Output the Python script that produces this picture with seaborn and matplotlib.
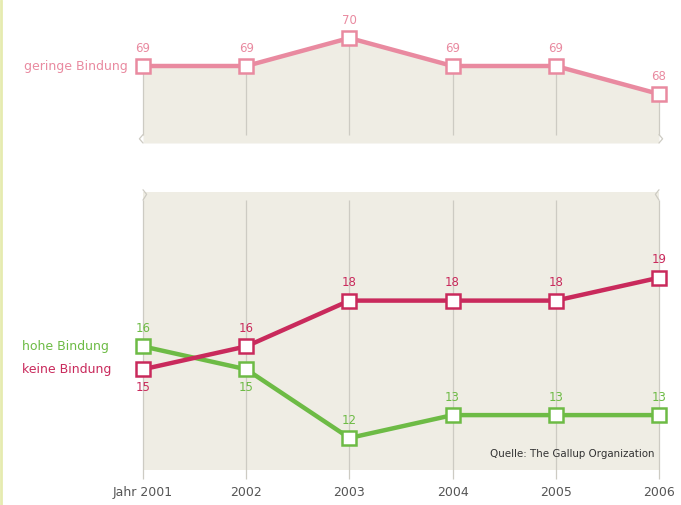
import matplotlib
matplotlib.use('Agg')
import matplotlib.pyplot as plt
import seaborn as sns
import numpy as np
import pandas as pd

# data
years = [2001, 2002, 2003, 2004, 2005, 2006]
year_labels = ['Jahr 2001', '2002', '2003', '2004', '2005', '2006']
geringe = [69, 69, 70, 69, 69, 68]
hohe = [16, 15, 12, 13, 13, 13]
keine = [15, 16, 18, 18, 18, 19]

sns.set_style('white')
plt.rcParams['font.family'] = ['DejaVu Sans']

c_ger = '#e98aa0'
c_kei = '#c92a5c'
c_hoh = '#6dbb45'
beige = '#efede4'
grid_c = '#cdcbc3'
fs_val = 8.5
fs_lab = 9

fig = plt.figure(figsize=(6.81, 5.05), dpi=100)
W, H = 681, 505
px_per_year = 103.2
xl = (2001 - 143 / px_per_year, 2006 + (W - 659) / px_per_year)
yl1 = (69 - (160 - 66) / 28, 69 + 66 / 28)
yl2 = (12 - (H - 438) / 22.9, 12 + (438 - 180) / 22.9)

# top panel: pixel 0..160
ax1 = fig.add_axes([0, 1 - 160 / H, 1, 160 / H])
# bottom panel: pixel 180..505
ax2 = fig.add_axes([0, 0, 1, (H - 180) / H])

# top panel
base1 = 66.25
ax1.fill_between(years, geringe, base1, color=beige, lw=0, zorder=0)
ax1.vlines(years, 66.55, geringe, color=grid_c, lw=0.9, zorder=1)
df1 = pd.DataFrame({'Jahr': years, 'Wert': geringe})
sns.lineplot(data=df1, x='Jahr', y='Wert', ax=ax1, color=c_ger, lw=3.2,
             marker='s', markersize=10, markerfacecolor='white',
             markeredgecolor=c_ger, markeredgewidth=1.8, zorder=3)
ax1.set_xlim(*xl)
ax1.set_ylim(*yl1)
ax1.axis('off')
for x, v in zip(years, geringe):
    ax1.text(x, v + 0.4, str(v), color=c_ger, fontsize=fs_val, ha='center', va='bottom')
ax1.text(2001 - 0.15, geringe[0], 'geringe Bindung', color=c_ger, fontsize=fs_lab,
         ha='right', va='center')
# break marks
for x0, d in ((2001, -0.035), (2006, 0.035)):
    ax1.plot([x0, x0 + d, x0], [66.55, 66.4, 66.25], color=grid_c, lw=0.9)

# bottom panel
top2, bot2 = 22.74, 10.6
ax2.fill_between(years, top2, bot2, color=beige, lw=0, zorder=0)
ax2.vlines(years, 10.2, top2 - 0.35, color=grid_c, lw=0.9, zorder=1)
for x0, d in ((2001, 0.035), (2006, -0.035)):
    ax2.plot([x0, x0 + d, x0], [top2 - 0.35, top2 - 0.1, top2 + 0.1], color=grid_c, lw=0.9)

df2 = pd.DataFrame({'Jahr': years * 2, 'Wert': hohe + keine,
                    'Gruppe': ['hohe Bindung'] * 6 + ['keine Bindung'] * 6})
sns.lineplot(data=df2, x='Jahr', y='Wert', hue='Gruppe', ax=ax2,
             palette={'hohe Bindung': c_hoh, 'keine Bindung': c_kei},
             lw=3.2, marker='s', markersize=10, markerfacecolor='white',
             markeredgewidth=1.8, legend=False, zorder=3)
for line, c in zip(ax2.get_lines()[-2:], (c_hoh, c_kei)):
    line.set_markeredgecolor(c)
ax2.set_xlim(*xl)
ax2.set_ylim(*yl2)
ax2.axis('off')

for i, (x, v) in enumerate(zip(years, hohe)):
    if i == 1:
        ax2.text(x, v - 0.5, str(v), color=c_hoh, fontsize=fs_val, ha='center', va='top')
    else:
        ax2.text(x, v + 0.5, str(v), color=c_hoh, fontsize=fs_val, ha='center', va='bottom')
for i, (x, v) in enumerate(zip(years, keine)):
    if i == 0:
        ax2.text(x, v - 0.5, str(v), color=c_kei, fontsize=fs_val, ha='center', va='top')
    else:
        ax2.text(x, v + 0.5, str(v), color=c_kei, fontsize=fs_val, ha='center', va='bottom')

ax2.text(2001 - 0.33, hohe[0], 'hohe Bindung', color=c_hoh, fontsize=fs_lab,
         ha='right', va='center')
ax2.text(2001 - 0.31, keine[0], 'keine Bindung', color=c_kei, fontsize=fs_lab,
         ha='right', va='center')

for x, lab in zip(years, year_labels):
    ax2.text(x, 9.6, lab, color='#555555', fontsize=9, ha='center', va='center')

ax2.text(2006 - 0.04, 11.3, 'Quelle: The Gallup Organization', color='#333333',
         fontsize=7.4, ha='right', va='center')

# thin border at the left edge
fig.add_artist(plt.Line2D([0.002, 0.002], [0, 1], color='#e6ebb0', lw=2))

fig.savefig('out.png', dpi=100)
